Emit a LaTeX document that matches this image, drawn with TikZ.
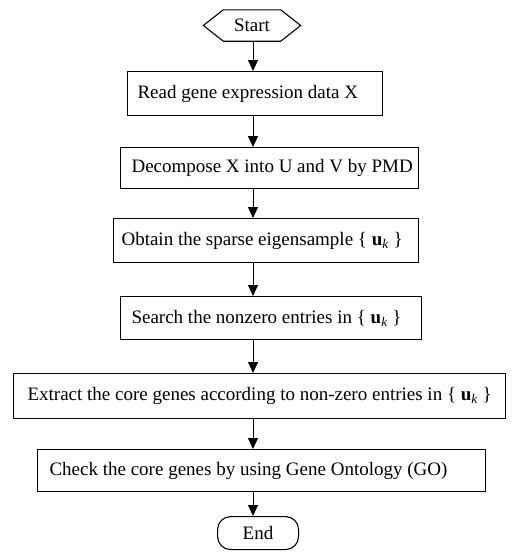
\documentclass[tikz,border=0pt]{standalone}
\usepackage{fontspec}
\setmainfont{Liberation Serif}
\usetikzlibrary{arrows.meta}
\tikzset{
  boxnode/.style={draw, line width=1.1pt, anchor=north west, inner ysep=0pt,
    font=\fontsize{19}{22}\selectfont},
  arr/.style={line width=1pt, -{Triangle[width=10pt,length=11pt]}},
}
\newcommand{\uk}{\{ \textbf{u}\textsubscript{\itshape k} \}}
\begin{document}
\begin{tikzpicture}[x=1pt,y=-1pt]
\useasboundingbox[fill=white] (0,0) rectangle (523,552);
% Start hexagon
\node[minimum width=97pt, minimum height=31pt, inner sep=0pt,
      font=\fontsize{19}{22}\selectfont] (st) at (252,25.5) {Start};
\draw[line width=1.1pt] (st.west) -- ([xshift=20pt]st.north west) -- ([xshift=-20pt]st.north east)
  -- (st.east) -- ([xshift=-20pt]st.south east) -- ([xshift=20pt]st.south west) -- cycle;
\node[boxnode, inner xsep=10pt, minimum height=44pt] (b1) at (127,71)
  {\makebox[235pt][l]{Read gene expression data X}};
\node[boxnode, inner xsep=11pt, minimum height=41pt] (b2) at (120,147)
  {\makebox[276pt][l]{Decompose X into U and V by PMD}};
\node[boxnode, inner xsep=8pt, minimum height=44pt] (b3) at (113,218)
  {\makebox[289pt][l]{Obtain the sparse eigensample \uk}};
\node[boxnode, inner xsep=11pt, minimum height=43pt] (b4) at (120,296)
  {\makebox[279pt][l]{Search the nonzero entries in \uk}};
\node[boxnode, inner xsep=14pt, minimum height=45pt] (b5) at (13,373)
  {\makebox[464pt][l]{Extract the core genes according to non-zero entries in \uk}};
\node[boxnode, inner xsep=12pt, minimum height=42pt] (b6) at (37,449)
  {\makebox[424pt][l]{Check the core genes by using Gene Ontology (GO)}};
\node[boxnode, rounded corners=13pt, inner sep=0pt, minimum width=81pt, minimum height=33pt] (en) at (217,516)
  {End};
\coordinate (ax) at (253,0);
\draw[arr] (st.south -| ax) -- (b1.north -| ax);
\draw[arr] (b1.south -| ax) -- (b2.north -| ax);
\draw[arr] (b2.south -| ax) -- (b3.north -| ax);
\draw[arr] (b3.south -| ax) -- (b4.north -| ax);
\draw[arr] (b4.south -| ax) -- (b5.north -| ax);
\draw[arr] (b5.south -| ax) -- (b6.north -| ax);
\draw[arr] (b6.south -| ax) -- (en.north -| ax);
\end{tikzpicture}
\end{document}
